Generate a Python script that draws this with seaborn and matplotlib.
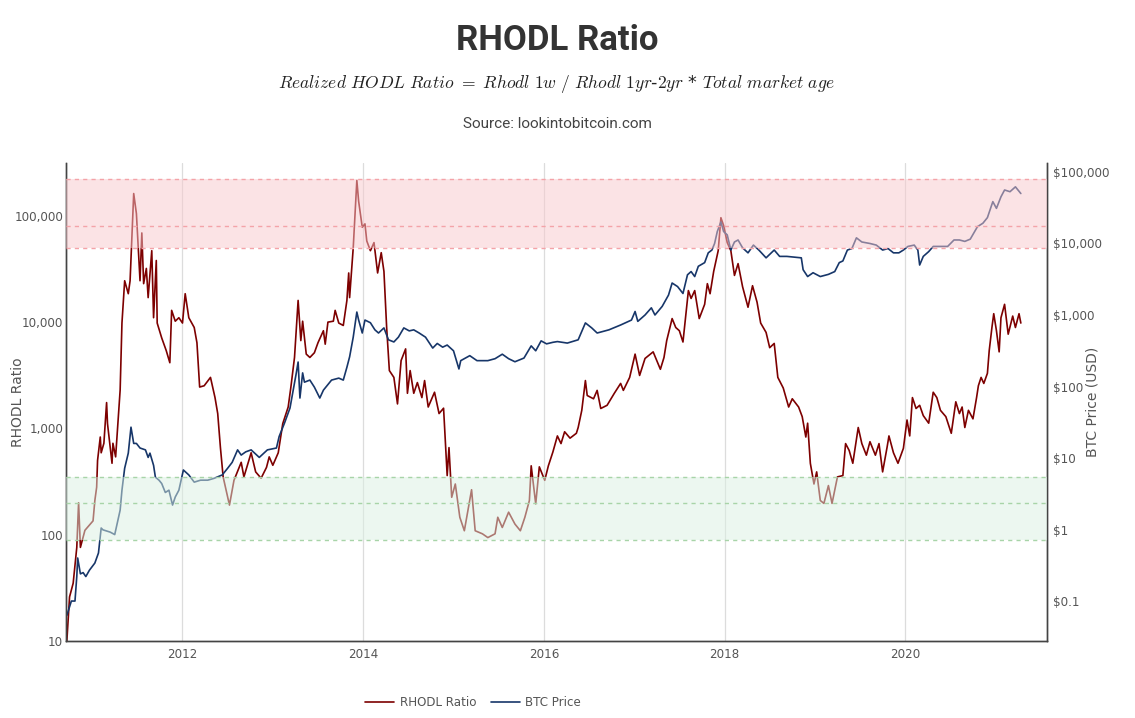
import numpy as np
import pandas as pd
import seaborn as sns
import matplotlib
matplotlib.use("Agg")
import matplotlib.pyplot as plt
from matplotlib.patches import Rectangle
from matplotlib.ticker import FuncFormatter, NullLocator
from matplotlib.transforms import blended_transform_factory

# RHODL ratio (decimal year, value)
rhodl_year = [2010.72, 2010.75, 2010.79, 2010.83, 2010.85, 2010.87, 2010.92, 2011.01, 2011.03, 2011.05,
              2011.06, 2011.09, 2011.10, 2011.13, 2011.16, 2011.17, 2011.22, 2011.23, 2011.26, 2011.31,
              2011.33, 2011.36, 2011.40, 2011.42, 2011.46, 2011.49, 2011.53, 2011.55, 2011.57, 2011.60,
              2011.62, 2011.66, 2011.68, 2011.71, 2011.72, 2011.77, 2011.82, 2011.86, 2011.88, 2011.92,
              2011.96, 2012.00, 2012.03, 2012.07, 2012.13, 2012.16, 2012.19, 2012.24, 2012.31, 2012.36,
              2012.39, 2012.42, 2012.45, 2012.50, 2012.52, 2012.57, 2012.65, 2012.68, 2012.76, 2012.81,
              2012.87, 2012.93, 2012.96, 2013.00, 2013.06, 2013.11, 2013.17, 2013.20, 2013.24, 2013.28,
              2013.31, 2013.33, 2013.37, 2013.41, 2013.46, 2013.50, 2013.56, 2013.58, 2013.61, 2013.67,
              2013.69, 2013.73, 2013.78, 2013.82, 2013.84, 2013.85, 2013.89, 2013.93, 2013.95, 2013.99,
              2014.02, 2014.04, 2014.08, 2014.12, 2014.16, 2014.20, 2014.23, 2014.26, 2014.29, 2014.34,
              2014.38, 2014.42, 2014.47, 2014.49, 2014.52, 2014.56, 2014.60, 2014.65, 2014.68, 2014.72,
              2014.79, 2014.84, 2014.89, 2014.93, 2014.95, 2014.98, 2015.02, 2015.07, 2015.12, 2015.20,
              2015.24, 2015.32, 2015.38, 2015.46, 2015.49, 2015.54, 2015.61, 2015.68, 2015.74, 2015.79,
              2015.84, 2015.86, 2015.91, 2015.95, 2016.01, 2016.05, 2016.10, 2016.15, 2016.19, 2016.23,
              2016.29, 2016.36, 2016.38, 2016.42, 2016.46, 2016.48, 2016.55, 2016.59, 2016.63, 2016.70,
              2016.78, 2016.85, 2016.88, 2016.95, 2017.01, 2017.06, 2017.12, 2017.21, 2017.29, 2017.33,
              2017.36, 2017.42, 2017.46, 2017.50, 2017.54, 2017.60, 2017.63, 2017.67, 2017.72, 2017.78,
              2017.81, 2017.84, 2017.88, 2017.93, 2017.96, 2017.99, 2018.03, 2018.07, 2018.11, 2018.15,
              2018.20, 2018.26, 2018.31, 2018.36, 2018.40, 2018.46, 2018.50, 2018.55, 2018.59, 2018.65,
              2018.71, 2018.75, 2018.82, 2018.86, 2018.90, 2018.92, 2018.95, 2018.99, 2019.02, 2019.06,
              2019.10, 2019.15, 2019.19, 2019.25, 2019.31, 2019.34, 2019.38, 2019.42, 2019.48, 2019.52,
              2019.57, 2019.61, 2019.67, 2019.71, 2019.75, 2019.80, 2019.82, 2019.87, 2019.92, 2019.98,
              2020.02, 2020.05, 2020.08, 2020.12, 2020.16, 2020.20, 2020.26, 2020.31, 2020.35, 2020.39,
              2020.45, 2020.51, 2020.56, 2020.60, 2020.63, 2020.66, 2020.70, 2020.75, 2020.79, 2020.81,
              2020.84, 2020.87, 2020.91, 2020.93, 2020.96, 2020.98, 2021.01, 2021.04, 2021.06, 2021.10,
              2021.14, 2021.19, 2021.22, 2021.26, 2021.28]
rhodl_value = [10, 26, 35, 76, 200, 76, 110, 135, 210, 280,
               500, 830, 590, 725, 1750, 1110, 470, 725, 540, 2300,
               9800, 24500, 18500, 24500, 162000, 105000, 24500, 69000, 23000, 32000,
               17000, 47000, 11000, 38000, 9800, 7100, 5400, 4150, 12900, 10200,
               11000, 9800, 18500, 11000, 8900, 6400, 2450, 2520, 3020, 1950,
               1380, 660, 350, 225, 190, 325, 480, 350, 590, 390,
               340, 430, 540, 450, 590, 1110, 1590, 2450, 4650, 16000,
               6700, 10200, 5000, 4650, 5150, 6400, 8300, 6200, 10000, 10200,
               12900, 9800, 9300, 16000, 29000, 17000, 50000, 215000, 137000, 78000,
               84000, 58000, 47000, 56000, 29000, 45000, 30000, 8900, 3500, 3020,
               1700, 4350, 5600, 2140, 3500, 2140, 2700, 1950, 2820, 1590,
               2190, 1380, 1550, 360, 660, 225, 300, 146, 109, 265,
               109, 102, 94, 102, 146, 117, 163, 126, 109, 146,
               210, 445, 195, 435, 325, 445, 600, 850, 720, 930,
               810, 900, 1020, 1480, 2820, 2040, 1900, 2280, 1540, 1650,
               2140, 2650, 2280, 3020, 5000, 3150, 4550, 5250, 3600, 4650,
               6700, 10800, 8900, 8300, 6500, 19800, 16700, 19800, 10800, 14700,
               23000, 18500, 30000, 47000, 96000, 81000, 56000, 47000, 27500, 35500,
               21500, 13800, 22000, 15400, 9800, 8000, 5750, 6300, 3020, 2400,
               1590, 1900, 1590, 1290, 830, 1120, 470, 300, 390, 210,
               197, 290, 197, 350, 360, 720, 620, 470, 1020, 720,
               560, 750, 560, 720, 390, 670, 850, 590, 470, 650,
               1200, 850, 1950, 1540, 1650, 1320, 1120, 2190, 1950, 1480,
               1290, 900, 1780, 1380, 1590, 1020, 1480, 1230, 1950, 2520,
               3020, 2650, 3300, 5400, 8900, 12000, 8300, 5250, 11000, 14700,
               7700, 11400, 8900, 12000, 9800]

# BTC price in USD (decimal year, value)
btc_year = [2010.72, 2010.77, 2010.81, 2010.83, 2010.84, 2010.87, 2010.90, 2010.93, 2010.97, 2011.03,
            2011.07, 2011.10, 2011.12, 2011.20, 2011.25, 2011.31, 2011.33, 2011.36, 2011.40, 2011.43,
            2011.46, 2011.49, 2011.53, 2011.59, 2011.62, 2011.64, 2011.68, 2011.70, 2011.74, 2011.77,
            2011.81, 2011.85, 2011.89, 2011.92, 2011.96, 2012.01, 2012.07, 2012.13, 2012.20, 2012.28,
            2012.35, 2012.44, 2012.50, 2012.55, 2012.61, 2012.65, 2012.70, 2012.76, 2012.85, 2012.94,
            2013.04, 2013.07, 2013.13, 2013.19, 2013.22, 2013.26, 2013.28, 2013.30, 2013.33, 2013.35,
            2013.41, 2013.46, 2013.52, 2013.56, 2013.65, 2013.73, 2013.78, 2013.82, 2013.85, 2013.89,
            2013.93, 2013.95, 2013.99, 2014.02, 2014.08, 2014.13, 2014.17, 2014.23, 2014.28, 2014.34,
            2014.39, 2014.45, 2014.51, 2014.56, 2014.62, 2014.69, 2014.77, 2014.82, 2014.88, 2014.93,
            2015.00, 2015.06, 2015.08, 2015.18, 2015.26, 2015.38, 2015.46, 2015.54, 2015.61, 2015.68,
            2015.78, 2015.86, 2015.91, 2015.97, 2016.03, 2016.10, 2016.15, 2016.26, 2016.38, 2016.42,
            2016.46, 2016.53, 2016.59, 2016.72, 2016.85, 2016.97, 2017.01, 2017.04, 2017.12, 2017.19,
            2017.23, 2017.31, 2017.38, 2017.42, 2017.48, 2017.54, 2017.59, 2017.63, 2017.67, 2017.71,
            2017.78, 2017.82, 2017.86, 2017.89, 2017.92, 2017.96, 2017.99, 2018.03, 2018.07, 2018.11,
            2018.15, 2018.20, 2018.26, 2018.32, 2018.38, 2018.46, 2018.55, 2018.61, 2018.69, 2018.85,
            2018.87, 2018.92, 2018.98, 2019.06, 2019.15, 2019.22, 2019.27, 2019.31, 2019.36, 2019.41,
            2019.46, 2019.52, 2019.61, 2019.68, 2019.75, 2019.81, 2019.87, 2019.93, 2019.98, 2020.03,
            2020.10, 2020.14, 2020.16, 2020.20, 2020.26, 2020.31, 2020.39, 2020.47, 2020.54, 2020.60,
            2020.66, 2020.72, 2020.80, 2020.86, 2020.91, 2020.97, 2021.01, 2021.06, 2021.10, 2021.16,
            2021.22, 2021.28]
btc_price = [0.063, 0.10, 0.10, 0.22, 0.40, 0.24, 0.25, 0.22, 0.27, 0.34,
             0.47, 1.05, 0.99, 0.92, 0.85, 1.87, 3.55, 7.2, 11.7, 27,
             16, 16, 13.8, 13, 10.2, 11.7, 7.9, 5.4, 4.9, 4.4,
             3.3, 3.55, 2.2, 2.85, 3.55, 6.8, 5.8, 4.6, 4.9, 4.9,
             5.2, 5.8, 7.2, 8.7, 13, 11, 12.2, 13, 10.2, 13,
             13.8, 20, 31, 50, 81, 155, 220, 69, 155, 115,
             123, 98, 69, 89, 123, 131, 123, 186, 260, 490,
             1100, 850, 560, 850, 780, 620, 560, 660, 450, 420,
             490, 660, 600, 620, 560, 490, 345, 400, 355, 380,
             316, 176, 230, 270, 230, 230, 245, 283, 245, 222,
             250, 370, 316, 435, 395, 415, 425, 405, 450, 590,
             775, 660, 560, 620, 725, 850, 1120, 815, 1000, 1260,
             1000, 1320, 1900, 2800, 2500, 2000, 3650, 4050, 3450, 4800,
             5400, 7400, 8100, 10000, 14700, 20000, 14700, 13200, 8100, 10500,
             11200, 8700, 7400, 9500, 8100, 6300, 8100, 6600, 6600, 6300,
             4300, 3450, 3900, 3450, 3700, 4050, 5400, 5700, 8100, 8500,
             12000, 10500, 10000, 9500, 8100, 8500, 7400, 7400, 8100, 9100,
             9500, 8100, 5000, 6600, 7700, 9100, 9100, 9100, 11200, 11200,
             10700, 11500, 17200, 19200, 23000, 38500, 31000, 45000, 56000, 53000,
             62000, 50000]

year_ticks = [2012, 2014, 2016, 2018, 2020]
rhodl_ticks = [10, 100, 1000, 10000, 100000]
price_ticks = [0.1, 1, 10, 100, 1000, 10000, 100000]

# sell zone (red) and buy zone (green) on the RHODL axis: low, mid, high
red_zone = [50000, 80000, 220000]
green_zone = [90, 200, 350]

RED = '#7d0000'
BLUE = '#173669'
GRAY = '#555555'

sns.set_style("white")
plt.rcParams['font.family'] = ['DejaVu Sans']
plt.rcParams['mathtext.fontset'] = 'cm'

rhodl_df = pd.DataFrame({'year': rhodl_year, 'RHODL Ratio': rhodl_value})
btc_df = pd.DataFrame({'year': btc_year, 'BTC Price': btc_price})

fig = plt.figure(figsize=(11.35, 7.18), dpi=100)
ax = fig.add_axes([0.0581, 0.1072, 0.8644, 0.6658])
ax2 = ax.twinx()

sns.lineplot(data=rhodl_df, x='year', y='RHODL Ratio', ax=ax, color=RED, lw=1.2,
             estimator=None, label='RHODL Ratio', legend=False)
sns.lineplot(data=btc_df, x='year', y='BTC Price', ax=ax2, color=BLUE, lw=1.2,
             estimator=None, label='BTC Price', legend=False)

ax.set_yscale('log')
ax2.set_yscale('log')
ax.set_xlim(2010.71, 2021.57)
ax.set_ylim(10, 314000)
ax2.set_ylim(0.0276, 133600)

# bands go on the twin axes so they sit over both lines
trans = blended_transform_factory(ax2.transAxes, ax.transData)
for zone, fill, dash in [(red_zone, '#f9c9cd', '#f4a3a8'), (green_zone, '#dbf1e3', '#a8d4a8')]:
    ax2.add_patch(Rectangle((0, zone[0]), 1, zone[2] - zone[0], transform=trans,
                            facecolor=fill, alpha=0.5, edgecolor='none', zorder=5))
    for v in zone:
        ax2.plot([0, 1], [v, v], transform=trans, color=dash, lw=1, ls=(0, (3, 3)),
                 zorder=6, scalex=False, scaley=False)

ax.set_xticks(year_ticks)
ax.set_xticklabels([str(y) for y in year_ticks])
ax.set_yticks(rhodl_ticks)
ax2.set_yticks(price_ticks)
ax.yaxis.set_minor_locator(NullLocator())
ax2.yaxis.set_minor_locator(NullLocator())
ax.yaxis.set_major_formatter(FuncFormatter(lambda v, p: '{:,.0f}'.format(v)))
ax2.yaxis.set_major_formatter(FuncFormatter(lambda v, p: '${:,g}'.format(v)))

ax.grid(axis='x', color='#dcdcdc', lw=0.9)
ax.grid(axis='y', visible=False)
ax2.grid(False)

ax.tick_params(axis='y', length=0, labelsize=8.6, labelcolor=GRAY, pad=2)
ax.tick_params(axis='x', length=0, labelsize=8.6, labelcolor=GRAY, pad=5)
ax2.tick_params(axis='y', length=0, labelsize=8.6, labelcolor=GRAY, pad=4)

ax.set_xlabel('')
ax.set_ylabel('RHODL Ratio', fontsize=10, color=GRAY, va='center')
ax2.set_ylabel('BTC Price (USD)', fontsize=10, color=GRAY, va='center')
ax.yaxis.set_label_coords(-0.049, 0.5)
ax2.yaxis.set_label_coords(1.046, 0.5)

for a in (ax, ax2):
    a.spines['top'].set_visible(False)
    for s in ('left', 'bottom', 'right'):
        a.spines[s].set_color('#444444')
        a.spines[s].set_linewidth(1)

fig.text(0.4907, 0.944, 'RHODL Ratio', ha='center', va='center', fontsize=25,
         fontweight='bold', family='Roboto', color='#333333')
fig.text(0.4907, 0.883,
         r'$\mathit{Realized\ HODL\ Ratio}\ =\ \mathit{Rhodl\ 1w\ /\ Rhodl\ 1yr}$-$\mathit{2yr}$ * $\mathit{Total\ market\ age}$',
         ha='center', va='center', fontsize=12.6, color='#222222')
fig.text(0.4907, 0.827, 'Source: lookintobitcoin.com', ha='center', va='center', fontsize=11,
         family='Roboto', color='#444444')

h1, l1 = ax.get_legend_handles_labels()
h2, l2 = ax2.get_legend_handles_labels()
fig.legend(h1 + h2[:1], l1 + l2[:1], loc='center', bbox_to_anchor=(0.417, 0.021), ncol=2,
           frameon=False, fontsize=8.6, labelcolor=GRAY, handlelength=2.4, columnspacing=1.2,
           handletextpad=0.5)

fig.savefig('out.png', dpi=100)
